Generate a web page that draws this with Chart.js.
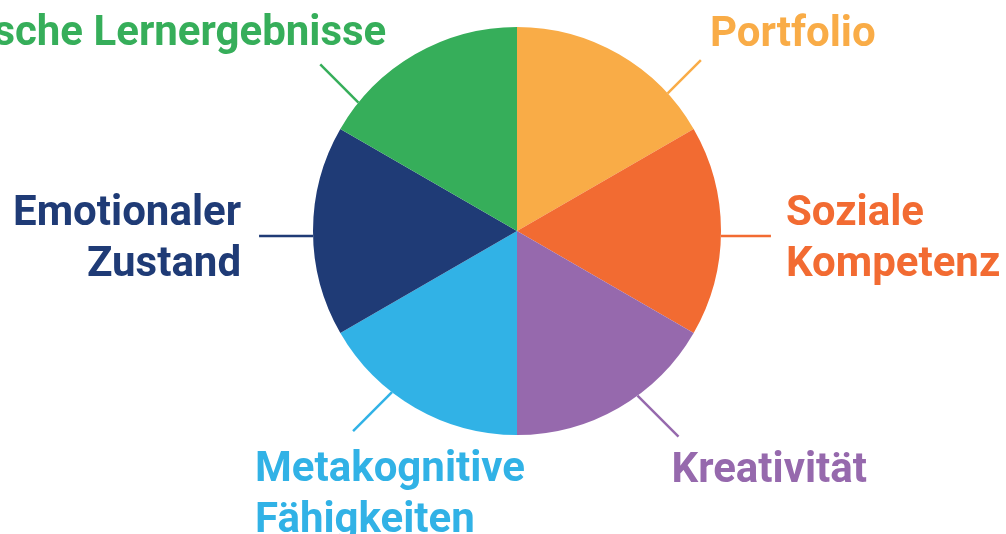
<!DOCTYPE html>
<html>
<head>
<meta charset="utf-8">
<script src="https://cdn.jsdelivr.net/npm/chart.js@4.4.0/dist/chart.umd.min.js"></script>
<style>
  html, body { margin: 0; padding: 0; background: #fff; }
  #wrap { width: 1006px; height: 534px; position: relative; }
</style>
</head>
<body>
<div id="wrap"><canvas id="myChart"></canvas></div>
<script>
var labels = ["Portfolio", "Soziale Kompetenz", "Kreativität", "Metakognitive Fähigkeiten", "Emotionaler Zustand", "Akademische Lernergebnisse"];
var labelLines = [["Portfolio"], ["Soziale", "Kompetenz"], ["Kreativität"], ["Metakognitive", "Fähigkeiten"], ["Emotionaler", "Zustand"], ["Akademische Lernergebnisse"]];
var values = [1, 1, 1, 1, 1, 1];
var colors = ["#f9ac47", "#f26b32", "#9669ad", "#31b2e6", "#1f3b76", "#36ae5a"];

// where each leader line leaves the pie (degrees clockwise from top), its direction and length,
// and where the text sits relative to the line end
var callouts = [
  { angle: 47.6, dir: [1, -1], len: 47, tx: 9, ty: -14, align: "left" },
  { angle: 91.4, dir: [1, 0], len: 50, tx: 15, ty: -11, align: "left" },
  { angle: 143.8, dir: [1, 1], len: 58, tx: -7, ty: 45, align: "left" },
  { angle: 217.8, dir: [-1, 1], len: 55, tx: -98, ty: 50, align: "left" },
  { angle: 268.6, dir: [-1, 0], len: 54, tx: -18, ty: -11, align: "right" },
  { angle: 309, dir: [-1, -1], len: 54, tx: 66, ty: -19, align: "right" }
];

var calloutPlugin = {
  id: "callouts",
  afterDraw: function(chart) {
    var ctx = chart.ctx;
    var arc = chart.getDatasetMeta(0).data[0];
    var cx = arc.x, cy = arc.y, r = arc.outerRadius;
    ctx.save();
    ctx.font = "bold 42px Roboto";
    ctx.textBaseline = "alphabetic";
    callouts.forEach(function(c, i) {
      var a = c.angle * Math.PI / 180;
      var x0 = cx + r * Math.sin(a);
      var y0 = cy - r * Math.cos(a);
      var n = Math.sqrt(c.dir[0] * c.dir[0] + c.dir[1] * c.dir[1]);
      var x1 = x0 + c.dir[0] / n * c.len;
      var y1 = y0 + c.dir[1] / n * c.len;
      ctx.strokeStyle = colors[i];
      ctx.lineWidth = 2.5;
      ctx.beginPath();
      ctx.moveTo(x0, y0);
      ctx.lineTo(x1, y1);
      ctx.stroke();
      ctx.fillStyle = colors[i];
      ctx.textAlign = c.align;
      labelLines[i].forEach(function(line, j) {
        ctx.fillText(line, x1 + c.tx, y1 + c.ty + j * 51);
      });
    });
    ctx.restore();
  }
};

var chart = document.getElementById("myChart");
var myChart = new Chart(chart, {
  type: 'pie',
  data: {
    labels: labels,
    datasets: [
      {
        data: values,
        backgroundColor: colors,
        borderWidth: 0
      }
    ]
  },
  options: {
    responsive: true,
    maintainAspectRatio: false,
    animation: false,
    layout: { padding: { left: 313, right: 285, top: 27, bottom: 99 } },
    plugins: {
      legend: { display: false },
      tooltip: { enabled: false }
    }
  },
  plugins: [calloutPlugin]
});
</script>
</body>
</html>
